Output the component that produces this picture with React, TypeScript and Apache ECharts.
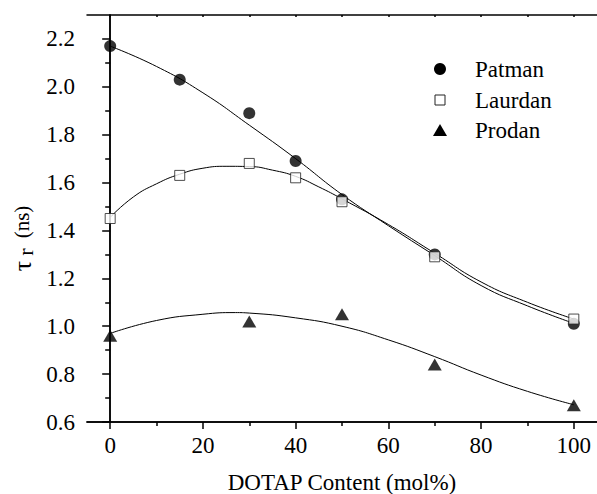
import React, { useEffect, useRef } from "react";
import * as echarts from "echarts";

const xMajor = [0, 20, 40, 60, 80, 100];
const xMinor = [10, 30, 50, 70, 90];
const yMajor = [0.6, 0.8, 1.0, 1.2, 1.4, 1.6, 1.8, 2.0, 2.2];
const yMinor = [0.7, 0.9, 1.1, 1.3, 1.5, 1.7, 1.9, 2.1];
const seriesNames = ["Patman", "Laurdan", "Prodan"];
const xTitle = "DOTAP Content (mol%)";

const patmanPts: [number, number][] = [
  [0, 2.17], [15, 2.03], [30, 1.89], [40, 1.69], [50, 1.53], [70, 1.3], [100, 1.01],
];
const laurdanPts: [number, number][] = [
  [0, 1.45], [15, 1.63], [30, 1.68], [40, 1.62], [50, 1.52], [70, 1.29], [100, 1.03],
];
const prodanPts: [number, number][] = [
  [0, 0.96], [30, 1.02], [50, 1.05], [70, 0.84], [100, 0.67],
];

const patmanFit: [number, number][] = [
  [0, 2.17], [10, 2.085], [20, 1.975], [30, 1.84], [40, 1.7], [50, 1.55],
  [60, 1.42], [70, 1.295], [80, 1.17], [90, 1.085], [100, 1.012],
];
const laurdanFit: [number, number][] = [
  [0, 1.455], [5, 1.54], [10, 1.595], [15, 1.635], [20, 1.66], [25, 1.668],
  [30, 1.667], [35, 1.652], [40, 1.626], [45, 1.582], [50, 1.532], [60, 1.425],
  [70, 1.305], [80, 1.185], [90, 1.1], [100, 1.03],
];
const prodanFit: [number, number][] = [
  [0, 0.97], [10, 1.024], [20, 1.05], [27, 1.057], [30, 1.055], [40, 1.035],
  [50, 1.0], [60, 0.943], [70, 0.873], [80, 0.796], [90, 0.728], [100, 0.672],
];

const FAM = "'Liberation Serif'";
const f = (size: number) => `${size}px ${FAM}`;

const CSS = `.chart-box text { font-family: "Liberation Serif", "Times New Roman", "DejaVu Serif", serif !important; }`;

export default function App() {
  const ref = useRef<HTMLDivElement>(null);
  useEffect(() => {
    if (!ref.current) return;
    const chart = echarts.init(ref.current, null, { renderer: "svg" });
    const axisLine = { show: true, lineStyle: { color: "#000", width: 1.5 } };
    const baseX = {
      type: "value" as const,
      min: -5,
      max: 105,
      splitLine: { show: false },
      axisLine,
      axisLabel: { show: false },
    };
    const baseY = {
      type: "value" as const,
      min: 0.6,
      max: 2.3,
      splitLine: { show: false },
      axisLine,
      axisLabel: { show: false },
    };
    chart.setOption({
      animation: false,
      grid: { left: 87, top: 15, right: -3, bottom: 72 },
      xAxis: [
        { ...baseX, position: "bottom", axisTick: { show: true, customValues: xMajor, length: 7, lineStyle: { color: "#000", width: 1.5 } } },
        { ...baseX, position: "bottom", axisTick: { show: true, customValues: xMinor, length: 4, lineStyle: { color: "#000", width: 1.5 } } },
        { ...baseX, position: "top", axisTick: { show: true, inside: true, customValues: xMajor.concat(xMinor), length: 2, lineStyle: { color: "#000", width: 1.5 } } },
      ],
      yAxis: [
        { ...baseY, axisTick: { show: true, customValues: yMajor, length: 8, lineStyle: { color: "#000", width: 1.5 } } },
        { ...baseY, position: "left", axisTick: { show: true, customValues: yMinor, length: 5, lineStyle: { color: "#000", width: 1.5 } } },
      ],
      series: [
        { type: "line", data: patmanFit, smooth: true, showSymbol: false, lineStyle: { color: "#000", width: 1 }, z: 1 },
        { type: "line", data: laurdanFit, smooth: true, showSymbol: false, lineStyle: { color: "#000", width: 1 }, z: 1 },
        { type: "line", data: prodanFit, smooth: true, showSymbol: false, lineStyle: { color: "#000", width: 1 }, z: 1 },
        { name: seriesNames[0], type: "scatter", data: patmanPts, symbol: "circle", symbolSize: 12, itemStyle: { color: "#000" }, z: 3 },
        { name: seriesNames[1], type: "scatter", data: laurdanPts, symbol: "rect", symbolSize: 10, itemStyle: { color: "#fff", borderColor: "#222", borderWidth: 1 }, z: 3 },
        { name: seriesNames[2], type: "scatter", data: prodanPts, symbol: "triangle", symbolSize: [14, 12], itemStyle: { color: "#000" }, z: 3 },
      ],
    });

    const px = (x: number, y: number) =>
      chart.convertToPixel({ xAxisIndex: 0, yAxisIndex: 0 }, [x, y]) as number[];

    const graphics: any[] = [];
    xMajor.forEach((v) => {
      const [x, y] = px(v, 0.6);
      graphics.push({ type: "text", x, y: y + 12, style: { text: String(v), font: f(23), fill: "#000", align: "center", verticalAlign: "top" } });
    });
    yMajor.forEach((v) => {
      const [x, y] = px(-5, v);
      graphics.push({ type: "text", x: x - 12, y, style: { text: v.toFixed(1), font: f(23), fill: "#000", align: "right", verticalAlign: "middle" } });
    });
    {
      const [x, y] = px(50, 0.6);
      graphics.push({ type: "text", x, y: y + 60, style: { text: xTitle, font: f(23), fill: "#000", align: "center", verticalAlign: "middle" } });
    }
    // y-axis title: τr (ns), reading bottom to top
    graphics.push({ type: "text", x: 22, y: 266, rotation: Math.PI / 2, style: { text: "τ", font: f(26), fill: "#000", align: "center", verticalAlign: "middle" } });
    graphics.push({ type: "text", x: 25, y: 252, rotation: Math.PI / 2, style: { text: "r", font: f(22), fill: "#000", align: "center", verticalAlign: "middle" } });
    graphics.push({ type: "text", x: 22, y: 222, rotation: Math.PI / 2, style: { text: "(ns)", font: f(21), fill: "#000", align: "center", verticalAlign: "middle" } });

    // legend
    const lx = 440;
    const ly = [69, 100, 130];
    graphics.push({ type: "circle", shape: { cx: lx, cy: ly[0], r: 6 }, style: { fill: "#000" } });
    graphics.push({ type: "rect", shape: { x: lx - 5, y: ly[1] - 5, width: 10, height: 10 }, style: { fill: "#fff", stroke: "#222", lineWidth: 1 } });
    graphics.push({ type: "polygon", shape: { points: [[lx, ly[2] - 6], [lx + 7, ly[2] + 6], [lx - 7, ly[2] + 6]] }, style: { fill: "#000" } });
    seriesNames.forEach((n, i) => {
      graphics.push({ type: "text", x: 475, y: ly[i], style: { text: n, font: f(23), fill: "#000", align: "left", verticalAlign: "middle" } });
    });

    chart.setOption({ graphic: graphics });
    return () => chart.dispose();
  }, []);
  return (
    <>
      <style>{CSS}</style>
      <div
        ref={ref}
        className="chart-box"
        style={{ position: "absolute", left: 0, top: 0, width: 597, height: 494 }}
      />
    </>
  );
}
